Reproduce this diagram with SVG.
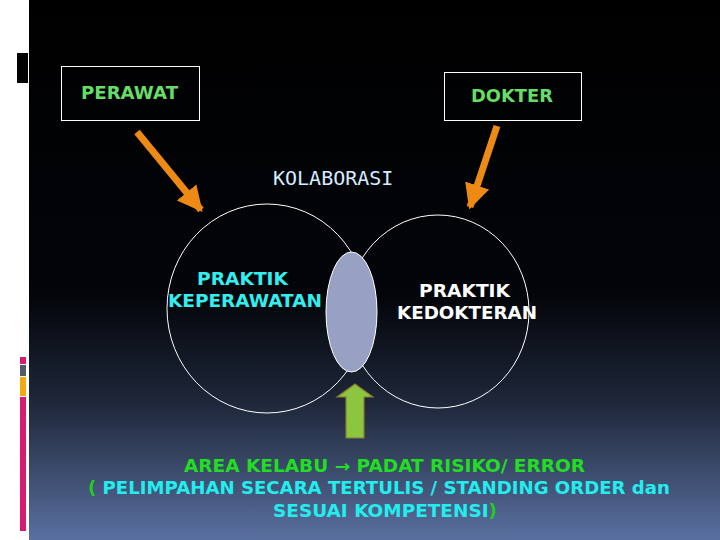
<svg xmlns="http://www.w3.org/2000/svg" width="720" height="540" viewBox="0 0 720 540">
<defs>
<linearGradient id="bg" x1="0" y1="0" x2="0" y2="1">
<stop offset="0" stop-color="#000000"/>
<stop offset="0.55" stop-color="#03050a"/>
<stop offset="0.75" stop-color="#1f283b"/>
<stop offset="1" stop-color="#5a70a0"/>
</linearGradient>
<marker id="oh" viewBox="0 0 10 10" refX="9" refY="5" markerWidth="3.6" markerHeight="4" orient="auto" markerUnits="strokeWidth">
<path d="M0,0 L10,5 L0,10 Z" fill="#ec8a14"/>
</marker>
<style>
.box{fill:none;stroke:#ffffff;stroke-width:1}
.lbl{font-family:"DejaVu Sans","Liberation Sans",sans-serif;font-weight:bold;font-size:17px}
.bot{font-family:"DejaVu Sans","Liberation Sans",sans-serif;font-weight:bold;font-size:17px}
.circ{fill:none;stroke:#ffffff;stroke-width:1}
.oarr{stroke:#ec8a14;stroke-width:7;fill:none}
</style>
</defs>
<rect x="0" y="0" width="720" height="540" fill="#ffffff"/>
<rect x="29" y="0" width="691" height="540" fill="url(#bg)"/>
<rect x="17" y="53" width="11" height="30" fill="#000000"/>
<rect x="20" y="357" width="6" height="7" fill="#d81b72"/>
<rect x="20" y="365" width="6" height="11" fill="#505a68"/>
<rect x="20" y="377" width="6" height="19" fill="#f4a812"/>
<rect x="20" y="397" width="6" height="134" fill="#d81b72"/>

<g id="perawat">
<rect class="box" x="61.5" y="66.5" width="138" height="54"/>
<text class="lbl" x="81" y="99" fill="#66dd66" textLength="97" lengthAdjust="spacingAndGlyphs">PERAWAT</text>
</g>
<g id="dokter">
<rect class="box" x="444.5" y="72.5" width="137" height="48"/>
<text class="lbl" x="471" y="102" fill="#66dd66" textLength="82" lengthAdjust="spacingAndGlyphs">DOKTER</text>
</g>
<g id="kolaborasi">
<text x="273" y="185" font-family="'DejaVu Sans Mono','Liberation Mono',monospace" font-size="20" fill="#d6ecff">KOLABORASI</text>
</g>
<g id="praktik-keperawatan">
<ellipse class="circ" cx="267" cy="308.5" rx="100" ry="104.5"/>
<text class="lbl" x="197" y="285" fill="#33eeee" textLength="91" lengthAdjust="spacingAndGlyphs">PRAKTIK</text>
<text class="lbl" x="168" y="307" fill="#33eeee" textLength="154" lengthAdjust="spacingAndGlyphs">KEPERAWATAN</text>
</g>
<g id="praktik-kedokteran">
<ellipse class="circ" cx="438" cy="311.5" rx="91" ry="96.5"/>
<text class="lbl" x="419" y="297" fill="#ffffff" textLength="91" lengthAdjust="spacingAndGlyphs">PRAKTIK</text>
<text class="lbl" x="397" y="319" fill="#ffffff" textLength="140" lengthAdjust="spacingAndGlyphs">KEDOKTERAN</text>
</g>
<g id="area-kelabu">
<ellipse cx="351.5" cy="312" rx="25.5" ry="60" fill="#98a0c4" stroke="#ffffff" stroke-width="1"/>
</g>
<g id="connectors">
<line class="oarr" x1="137" y1="132" x2="201" y2="210" marker-end="url(#oh)"/>
<line class="oarr" x1="497" y1="126" x2="470" y2="207" marker-end="url(#oh)"/>
<path d="M355,384 L373,397 L364,397 L364,438 L346,438 L346,397 L337,397 Z" fill="#8cc63f" stroke="#8a7a34" stroke-width="1.2"/>
</g>
<g id="caption">
<text class="bot" x="184" y="472" fill="#22dd22" textLength="401" lengthAdjust="spacingAndGlyphs">AREA KELABU → PADAT RISIKO/ ERROR</text>
<text class="bot" x="88" y="494" textLength="582" lengthAdjust="spacingAndGlyphs"><tspan fill="#22cc22">(</tspan><tspan fill="#22eeee"> PELIMPAHAN SECARA TERTULIS / STANDING ORDER dan</tspan></text>
<text class="bot" x="273" y="517" textLength="224" lengthAdjust="spacingAndGlyphs"><tspan fill="#22eeee">SESUAI KOMPETENSI</tspan><tspan fill="#22cc22">)</tspan></text>
</g>
</svg>
